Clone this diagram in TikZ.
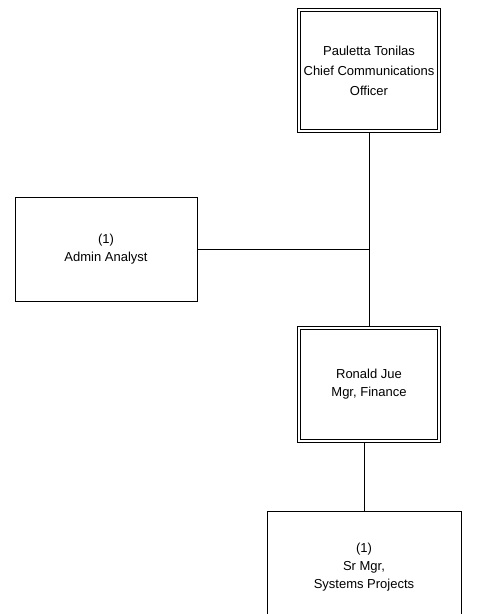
\documentclass[tikz,border=0pt]{standalone}
\usepackage{fontspec}
\setmainfont{Liberation Sans}
\usepackage{tikz}
\tikzset{
	position/.style={draw, line width=1pt, fill=white, align=center, inner sep=0pt, outer sep=0.5pt, font=\fontsize{13}{18}\selectfont},
	head/.style={position, double, double distance=2.2pt, outer sep=2.1pt}
}

\begin{document}
\begin{tikzpicture}[x=1pt, y=-1pt, line width=1pt]
			\clip (0,0) rectangle (485,614);
			\fill[white] (0,0) rectangle (485,614);

			\node[head, minimum width=139.8pt, minimum height=120.8pt] (pauletta) at (369,70.5) {Pauletta Tonilas \\[2pt] Chief Communications \\[2pt] Officer};
			\node[position, minimum width=182pt, minimum height=104pt] (admin) at (106,249) {(1) \\ Admin Analyst};
			\node[head, minimum width=139.8pt, minimum height=112.8pt] (ronald) at (369,384.5) {Ronald Jue \\ Mgr, Finance};
			\node[position, minimum width=194pt, minimum height=112pt] (srmgr) at (364,567) {(1) \\ Sr Mgr, \\ Systems Projects};

			\draw (pauletta.south) -- (ronald.north);
			\draw (admin.east) -- (admin.east -| ronald.north);
			\draw (srmgr.north) -- (srmgr.north |- ronald.south);

		\end{tikzpicture}
\end{document}
